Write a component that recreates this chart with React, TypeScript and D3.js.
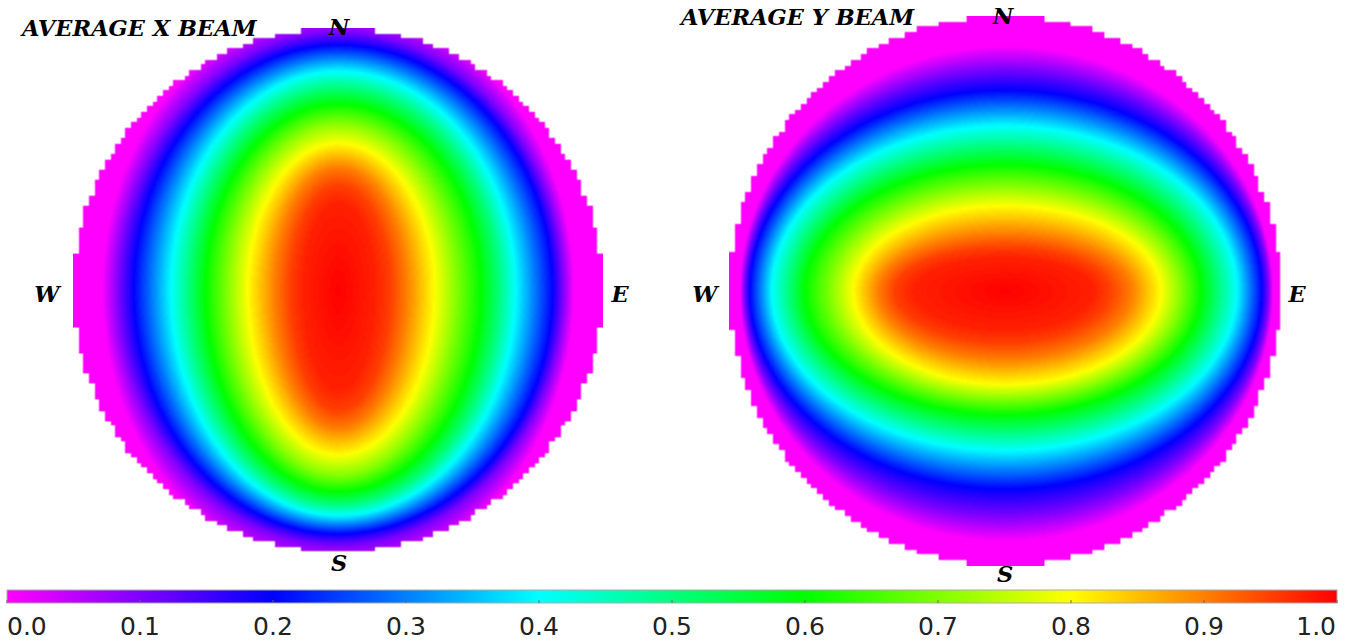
import * as d3 from "d3";
import { useEffect, useState } from "react";

// beam levels and the radius (fraction of the disk radius) where each level is reached
const levels = [0, 0.1, 0.2, 0.3, 0.4, 0.5, 0.6, 0.7, 0.8, 0.9, 0.95, 0.975, 1.0];

const xBeamWest = [0.89, 0.83, 0.77, 0.70, 0.63, 0.565, 0.50, 0.42, 0.34, 0.24, 0.18, 0.13, 0];
const xBeamEast = [0.89, 0.85, 0.81, 0.74, 0.67, 0.61, 0.54, 0.45, 0.365, 0.26, 0.20, 0.14, 0];
const xBeamNorth = [1.08, 0.985, 0.935, 0.885, 0.835, 0.775, 0.71, 0.64, 0.56, 0.47, 0.40, 0.33, 0];
const xBeamSouth = [1.08, 0.975, 0.93, 0.895, 0.86, 0.82, 0.77, 0.71, 0.63, 0.53, 0.46, 0.38, 0];

const yBeamWest = [0.96, 0.945, 0.925, 0.885, 0.845, 0.785, 0.725, 0.635, 0.55, 0.46, 0.40, 0.33, 0];
const yBeamEast = [0.97, 0.955, 0.93, 0.885, 0.84, 0.775, 0.71, 0.64, 0.565, 0.46, 0.38, 0.32, 0];
const yBeamNorth = [0.89, 0.81, 0.73, 0.665, 0.60, 0.53, 0.46, 0.385, 0.31, 0.21, 0.16, 0.12, 0];
const yBeamSouth = [0.91, 0.82, 0.72, 0.65, 0.58, 0.515, 0.45, 0.395, 0.34, 0.25, 0.19, 0.14, 0];

const colorStops = [0, 0.2, 0.4, 0.6, 0.8, 1.0];
const colorRange = ["#ff00ff", "#0000ff", "#00ffff", "#00ff00", "#ffff00", "#ff0000"];
const colorbarTicks = [0, 0.1, 0.2, 0.3, 0.4, 0.5, 0.6, 0.7, 0.8, 0.9, 1.0];

const beams = [
    { title: "AVERAGE X BEAM", west: xBeamWest, east: xBeamEast, north: xBeamNorth, south: xBeamSouth },
    { title: "AVERAGE Y BEAM", west: yBeamWest, east: yBeamEast, north: yBeamNorth, south: yBeamSouth }
];

// where each disk sits on the page
const layout = [
    { cx: 338, cy: 290.5, rx: 265, ry: 262.5, titleX: 22, titleY: 36, nY: 35, sY: 571, wX: 47, eX: 620, nX: 339, sX: 339 },
    { cx: 1005.5, cy: 291, rx: 276.5, ry: 275, titleX: 681, titleY: 25, nY: 24, sY: 582, wX: 705, eX: 1297, nX: 1003, sX: 1005 }
];

const gridCells = 100;
const res = 0.5;

const colorScale = d3.scaleLinear<string>().domain(colorStops).range(colorRange).clamp(true);
const lut = d3.range(256).map(k => d3.rgb(colorScale(k / 255)));

const renderBeam = (beam, box) => {
    const w = Math.round(2 * box.rx * res);
    const h = Math.round(2 * box.ry * res);
    const canvas = document.createElement("canvas");
    canvas.width = w;
    canvas.height = h;
    const ctx = canvas.getContext("2d");
    const img = ctx.createImageData(w, h);

    const rW = d3.scaleLinear().domain(levels).range(beam.west);
    const rE = d3.scaleLinear().domain(levels).range(beam.east);
    const rN = d3.scaleLinear().domain(levels).range(beam.north);
    const rS = d3.scaleLinear().domain(levels).range(beam.south);

    const cellW = (2 * box.rx) / gridCells;
    const cellH = (2 * box.ry) / gridCells;

    for (let j = 0; j < h; j++) {
        for (let i = 0; i < w; i++) {
            const fx = (i + 0.5) / res;
            const fy = (j + 0.5) / res;
            // pixelated disk mask
            const mx = ((Math.floor(fx / cellW) + 0.5) * cellW - box.rx) / box.rx;
            const my = ((Math.floor(fy / cellH) + 0.5) * cellH - box.ry) / box.ry;
            if (mx * mx + my * my > 1) continue;

            const u = (fx - box.rx) / box.rx;
            const v = (fy - box.ry) / box.ry;
            const rX = u < 0 ? rW : rE;
            const rY = v < 0 ? rN : rS;
            const g = t => (u / rX(t)) ** 2 + (v / rY(t)) ** 2;

            let val = 1;
            if (u !== 0 || v !== 0) {
                if (g(0) >= 1) {
                    val = 0;
                } else {
                    let lo = 0, hi = 1;
                    for (let k = 0; k < 16; k++) {
                        const mid = (lo + hi) / 2;
                        if (g(mid) < 1) lo = mid; else hi = mid;
                    }
                    val = (lo + hi) / 2;
                }
            }
            const c = lut[Math.round(val * 255)];
            const p = (j * w + i) * 4;
            img.data[p] = c.r;
            img.data[p + 1] = c.g;
            img.data[p + 2] = c.b;
            img.data[p + 3] = 255;
        }
    }
    ctx.putImageData(img, 0, 0);
    return canvas.toDataURL();
};

const serif = { fontFamily: "DejaVu Serif", fontWeight: "bold", fontStyle: "italic", fontSize: 22.5 };

const App = () => {
    const [images, setImages] = useState<string[]>([]);

    useEffect(() => {
        setImages(beams.map((b, i) => renderBeam(b, layout[i])));
    }, []);

    const barX = d3.scaleLinear().domain([0, 1]).range([7, 1337]);
    const barTop = 590;
    const barH = 13;

    return (
        <svg width={1352} height={644} style={{ position: "absolute", left: 0, top: 0, background: "#fff" }}>
            <defs>
                <linearGradient id="cbar" x1="0" x2="1" y1="0" y2="0">
                    {colorStops.map((s, i) => (
                        <stop key={i} offset={s} stopColor={colorRange[i]} />
                    ))}
                </linearGradient>
            </defs>

            {beams.map((b, i) => {
                const l = layout[i];
                return (
                    <g key={b.title}>
                        {images[i] && (
                            <image
                                href={images[i]}
                                x={l.cx - l.rx}
                                y={l.cy - l.ry}
                                width={2 * l.rx}
                                height={2 * l.ry}
                                preserveAspectRatio="none"
                            />
                        )}
                        <text x={l.titleX} y={l.titleY} style={serif}>{b.title}</text>
                        <text x={l.nX} y={l.nY} textAnchor="middle" style={serif}>N</text>
                        <text x={l.sX} y={l.sY} textAnchor="middle" style={serif}>S</text>
                        <text x={l.wX} y={302} textAnchor="middle" style={serif}>W</text>
                        <text x={l.eX} y={302} textAnchor="middle" style={serif}>E</text>
                    </g>
                );
            })}

            {/* colour bar */}
            <rect x={barX(0)} y={barTop} width={barX(1) - barX(0)} height={barH} fill="url(#cbar)" stroke="#aaa" strokeWidth={1} />
            {colorbarTicks.map(t => (
                <line key={"t" + t} x1={barX(t)} x2={barX(t)} y1={barTop + barH - 3} y2={barTop + barH} stroke="#666" strokeWidth={1} />
            ))}
            {colorbarTicks.map((t, i) => (
                <text
                    key={"l" + t}
                    x={i === 0 ? barX(t) : i === colorbarTicks.length - 1 ? barX(t) - 1 : barX(t)}
                    y={635}
                    textAnchor={i === 0 ? "start" : i === colorbarTicks.length - 1 ? "end" : "middle"}
                    style={{ fontFamily: "DejaVu Sans", fontSize: 25, fill: "#222" }}
                >
                    {t.toFixed(1)}
                </text>
            ))}
        </svg>
    );
};

export default App;
